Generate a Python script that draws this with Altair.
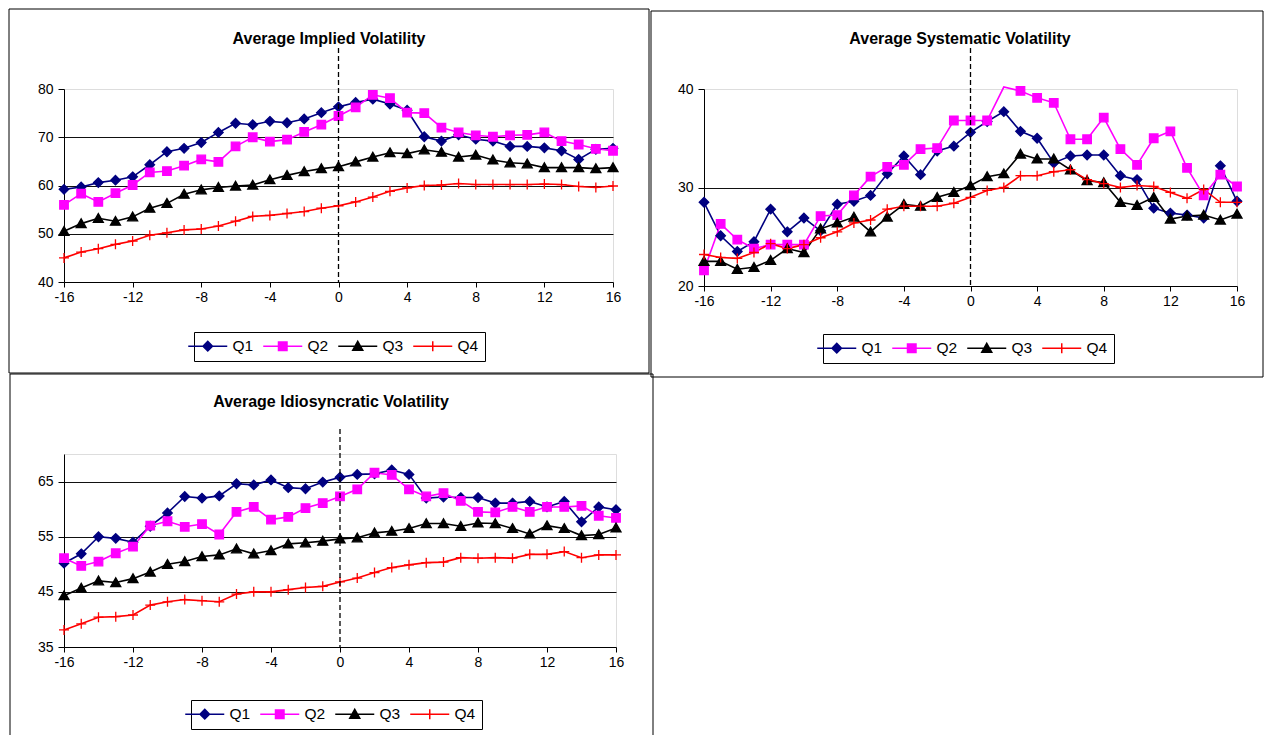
import altair as alt
import pandas as pd

FONT = "Liberation Sans"

EVENT_DAYS = list(range(-16, 17))
SERIES = ["Q1", "Q2", "Q3", "Q4"]
X_TICKS = [-16, -12, -8, -4, 0, 4, 8, 12, 16]
EVENT_LINE = [0]

IMPLIED_Q1 = [59.2, 59.7, 60.6, 61.1, 61.8, 64.3, 67.0, 67.7, 68.9, 71.0, 72.9, 72.6, 73.3, 73.0, 73.8, 75.1,
              76.3, 77.2, 77.9, 76.9, 75.6, 70.1, 69.2, 70.5, 69.6, 69.2, 68.1, 68.1, 67.8, 67.2, 65.4, 67.5, 67.7]
IMPLIED_Q2 = [56.0, 58.3, 56.6, 58.4, 60.1, 62.7, 63.0, 64.1, 65.4, 64.9, 68.1, 70.0, 69.1, 69.5, 71.1, 72.6,
              74.4, 76.2, 78.8, 78.1, 75.1, 75.0, 72.0, 71.0, 70.4, 70.1, 70.4, 70.5, 71.0, 69.2, 68.5, 67.6, 67.2]
IMPLIED_Q3 = [50.5, 52.1, 53.2, 52.6, 53.5, 55.3, 56.3, 58.2, 59.1, 59.6, 59.9, 60.1, 61.2, 62.1, 62.9, 63.5,
              63.9, 64.9, 65.9, 66.8, 66.6, 67.4, 66.9, 65.9, 66.3, 65.3, 64.7, 64.5, 63.7, 63.7, 63.7, 63.5, 63.7]
IMPLIED_Q4 = [45.0, 46.2, 46.9, 47.8, 48.5, 49.7, 50.2, 50.8, 51.0, 51.6, 52.6, 53.6, 53.8, 54.2, 54.6, 55.3,
              55.8, 56.6, 57.6, 58.8, 59.5, 60.0, 60.1, 60.4, 60.2, 60.2, 60.2, 60.2, 60.3, 60.2, 59.8, 59.6, 59.9]

SYSTEMATIC_Q1 = [28.5, 25.1, 23.5, 24.5, 27.8, 25.5, 26.9, 25.6, 28.3, 28.6, 29.2, 31.4, 33.2, 31.3, 33.7, 34.2,
                 35.6, 36.7, 37.7, 35.7, 35.0, 32.5, 33.2, 33.3, 33.3, 31.2, 30.8, 27.9, 27.4, 27.2, 26.9, 32.2, 28.6]
SYSTEMATIC_Q2 = [21.6, 26.3, 24.7, 23.8, 24.2, 24.2, 24.2, 27.1, 27.2, 29.2, 31.1, 32.1, 32.3, 33.9, 34.0, 36.8,
                 36.8, 36.8, 40.2, 39.8, 39.1, 38.6, 34.9, 34.9, 37.1, 33.9, 32.3, 35.0, 35.7, 32.0, 29.2, 31.3, 30.1]
SYSTEMATIC_Q3 = [22.5, 22.5, 21.7, 21.9, 22.6, 23.8, 23.4, 25.8, 26.4, 27.0, 25.5, 27.0, 28.3, 28.1, 29.0, 29.5,
                 30.2, 31.1, 31.4, 33.4, 32.9, 32.9, 31.8, 30.7, 30.5, 28.5, 28.2, 29.0, 26.8, 27.1, 27.2, 26.7, 27.3]
SYSTEMATIC_Q4 = [23.2, 22.9, 22.8, 23.4, 24.3, 23.8, 24.2, 24.9, 25.5, 26.4, 26.7, 27.8, 28.1, 28.1, 28.1, 28.4,
                 29.0, 29.7, 30.0, 31.2, 31.2, 31.6, 31.8, 30.8, 30.4, 30.0, 30.2, 30.1, 29.5, 28.9, 29.8, 28.5, 28.5]

IDIO_Q1 = [50.2, 51.9, 55.0, 54.7, 54.0, 56.9, 59.3, 62.3, 62.0, 62.4, 64.6, 64.4, 65.3, 63.9, 63.7, 64.9,
           65.8, 66.3, 66.4, 67.1, 66.3, 62.0, 62.2, 62.1, 62.1, 61.1, 61.1, 61.4, 60.4, 61.4, 57.7, 60.4, 59.9]
IDIO_Q2 = [51.1, 49.7, 50.5, 52.0, 53.2, 57.0, 57.8, 56.8, 57.3, 55.4, 59.5, 60.4, 58.1, 58.6, 60.2, 61.1,
           62.3, 63.6, 66.6, 66.2, 63.6, 62.3, 62.9, 61.5, 59.5, 59.4, 60.4, 59.5, 60.4, 60.4, 60.6, 58.8, 58.4]
IDIO_Q3 = [44.3, 45.7, 47.0, 46.7, 47.4, 48.6, 50.0, 50.5, 51.4, 51.7, 52.8, 51.9, 52.5, 53.7, 53.9, 54.2,
           54.6, 54.8, 55.7, 56.0, 56.5, 57.4, 57.4, 56.9, 57.5, 57.4, 56.5, 55.5, 57.0, 56.5, 55.2, 55.4, 56.6]
IDIO_Q4 = [38.1, 39.2, 40.4, 40.5, 40.8, 42.6, 43.2, 43.6, 43.4, 43.2, 44.6, 45.0, 45.0, 45.4, 45.8, 46.0,
           46.8, 47.5, 48.5, 49.4, 49.9, 50.3, 50.4, 51.2, 51.1, 51.2, 51.1, 51.8, 51.8, 52.3, 51.2, 51.7, 51.7]

COLORS = ["#000080", "#FF00FF", "#000000", "#FF0000"]
MARKER_PATHS = [
    "M0,-0.95L0.95,0L0,0.95L-0.95,0Z",
    "M-0.85,-0.85H0.85V0.85H-0.85Z",
    "M0,-0.95L1,0.8H-1Z",
    "M-1,0H1M0,-1V1",
]
LEGEND_PATHS = ["M-3.9,0H3.9" + p for p in MARKER_PATHS]


def panel(title, lists, y_domain, y_ticks, w, h, frame, title_xy, legend_xy, dash_top, spacer_top=None):
    rows = []
    for name, vals in zip(SERIES, lists):
        for d, v in zip(EVENT_DAYS, vals):
            rows.append({"day": d, "value": v, "series": name})
    df = pd.DataFrame(rows)
    one = pd.DataFrame({"k": [0]})

    x_enc = alt.X("day:Q", scale=alt.Scale(domain=[-16, 16], nice=False, zero=False),
                  axis=alt.Axis(values=X_TICKS, title=None, grid=False, tickSize=5, tickColor="black",
                                domainColor="black", labelColor="black", labelFont=FONT, labelFontSize=14,
                                labelPadding=3, labelFlush=False, labelOverlap=False,
                                labelExpr="datum.value + ''"))
    y_enc = alt.Y("value:Q", scale=alt.Scale(domain=y_domain, nice=False, zero=False),
                  axis=alt.Axis(values=y_ticks, title=None, grid=True,
                                gridColor={"condition": {"test": f"datum.value >= {y_domain[1]} || datum.value <= {y_domain[0]}",
                                                         "value": "transparent"}, "value": "#111111"},
                                gridWidth=1, tickSize=6, tickColor="black", domainColor="black",
                                labelColor="black", labelFont=FONT, labelFontSize=14, labelPadding=5,
                                labelFlush=False, labelOverlap=False, labelExpr="datum.value + ''"))

    color_scale = alt.Scale(domain=SERIES, range=COLORS)

    frame_layer = alt.Chart(one).mark_rect(fillOpacity=0, stroke="black", strokeWidth=1).encode(
        x=alt.value(frame[0]), x2=alt.value(frame[2]), y=alt.value(frame[1]), y2=alt.value(frame[3]))
    layers = [frame_layer]
    if spacer_top is not None:
        layers.append(alt.Chart(one).mark_rect(opacity=0).encode(
            x=alt.value(0), x2=alt.value(1), y=alt.value(spacer_top), y2=alt.value(spacer_top + 1)))

    lines = alt.Chart(df).mark_line(strokeWidth=1.6).encode(
        x=x_enc, y=y_enc,
        color=alt.Color("series:N", scale=color_scale, legend=None),
        detail="series:N")

    points = alt.Chart(df).transform_filter(f"datum.value <= {y_domain[1]}").mark_point(
        filled=True, size=100, strokeWidth=1.3, opacity=1).encode(
        x=x_enc, y=y_enc,
        color=alt.Color("series:N", scale=color_scale, legend=None),
        stroke=alt.Stroke("series:N", scale=color_scale, legend=None),
        shape=alt.Shape("series:N", scale=alt.Scale(domain=SERIES, range=MARKER_PATHS), legend=None))

    leg = alt.Legend(orient="none", legendX=legend_xy[0], legendY=legend_xy[1], direction="horizontal",
                     title=None, strokeColor="black", fillColor="white", padding=6,
                     labelFont=FONT, labelFontSize=15.5, labelColor="black", symbolSize=100,
                     symbolStrokeWidth=1.5, labelOffset=17, columnPadding=6, symbolOpacity=1)
    legend_layer = alt.Chart(df).transform_filter("false").mark_point(
        filled=True, size=100, strokeWidth=1.5, opacity=1).encode(
        x=x_enc, y=y_enc,
        color=alt.Color("series:N", scale=alt.Scale(domain=SERIES, range=COLORS), legend=leg),
        stroke=alt.Stroke("series:N", scale=alt.Scale(domain=SERIES, range=COLORS), legend=leg),
        shape=alt.Shape("series:N", scale=alt.Scale(domain=SERIES, range=LEGEND_PATHS), legend=leg))

    rule = alt.Chart(pd.DataFrame({"day": EVENT_LINE})).mark_rule(
        color="black", strokeWidth=1.3, strokeDash=[5, 3]).encode(
        x=alt.X("day:Q"), y=alt.value(dash_top), y2=alt.value(h))

    title_layer = alt.Chart(pd.DataFrame({"t": [title]})).mark_text(
        font=FONT, fontSize=16, fontWeight="bold", color="black", align="center", baseline="middle").encode(
        x=alt.value(title_xy[0]), y=alt.value(title_xy[1]), text="t:N")

    layers += [lines, points, legend_layer, rule, title_layer]
    return alt.layer(*layers).resolve_scale(
        color="independent", stroke="independent", shape="independent").properties(width=w, height=h)


p1 = panel("Average Implied Volatility", [IMPLIED_Q1, IMPLIED_Q2, IMPLIED_Q3, IMPLIED_Q4],
           [40, 80], [40, 50, 60, 70, 80], 549, 193,
           frame=(-55, -80, 585, 284), title_xy=(265, -50), legend_xy=(130, 243), dash_top=-41)
p2 = panel("Average Systematic Volatility", [SYSTEMATIC_Q1, SYSTEMATIC_Q2, SYSTEMATIC_Q3, SYSTEMATIC_Q4],
           [20, 40], [20, 30, 40], 533, 197,
           frame=(-53, -78, 559, 288), title_xy=(256, -50), legend_xy=(119, 245), dash_top=-41, spacer_top=-82)
p3 = panel("Average Idiosyncratic Volatility", [IDIO_Q1, IDIO_Q2, IDIO_Q3, IDIO_Q4],
           [35, 70], [35, 45, 55, 65], 552, 193,
           frame=(-54, -80, 589, 290), title_xy=(267, -52), legend_xy=(127, 246), dash_top=-25)

chart = alt.vconcat(alt.hconcat(p1, p2, spacing=0), p3, spacing=-5).properties(
    padding={"left": 0, "top": -2, "right": 0, "bottom": 0}
).configure_view(strokeWidth=0).configure(font=FONT)

chart.save("out.html", embed_options={"renderer": "svg", "actions": False})
